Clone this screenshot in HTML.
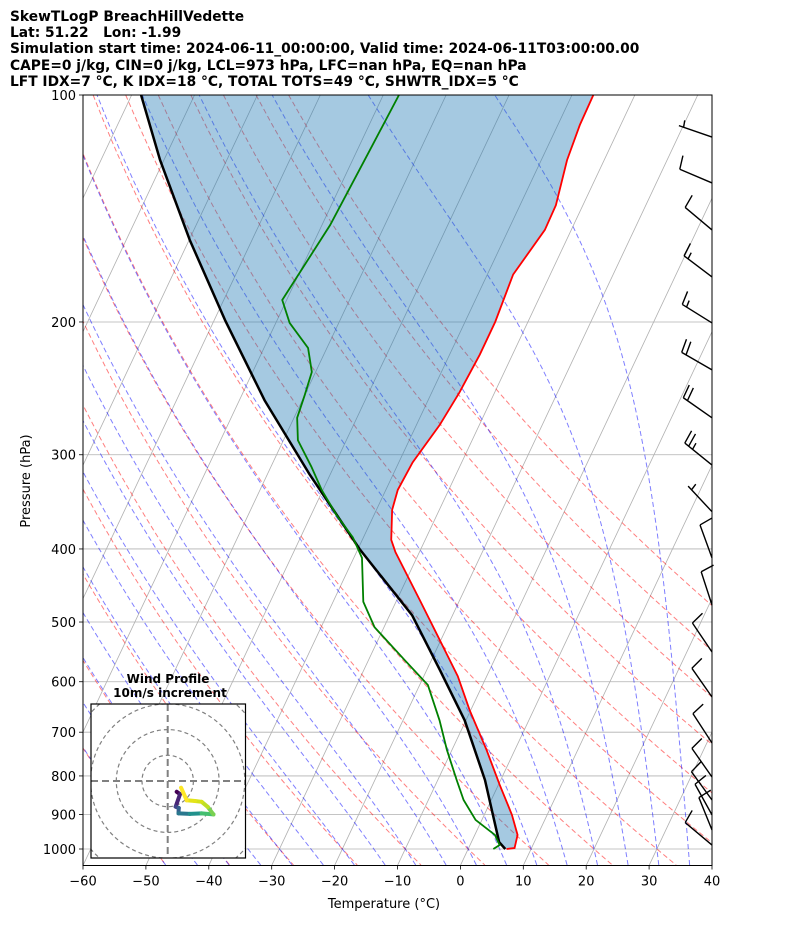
<!DOCTYPE html>
<html><head><meta charset="utf-8"><style>
html,body{margin:0;padding:0;background:#fff;}
svg{display:block;font-family:"DejaVu Sans","Liberation Sans",sans-serif;}
</style></head><body>
<svg id="chart" width="794" height="937" viewBox="0 0 794 937" xmlns="http://www.w3.org/2000/svg">
<defs><clipPath id="plotclip"><rect x="83" y="95" width="629" height="770.5"/></clipPath>
<clipPath id="hodoclip"><rect x="91" y="704" width="154.5" height="154"/></clipPath></defs>
<g font-weight="bold" font-size="13.8" fill="#000">
<text x="10" y="21">SkewTLogP BreachHillVedette</text>
<text x="10" y="37" xml:space="preserve">Lat: 51.22   Lon: -1.99</text>
<text x="10" y="53">Simulation start time: 2024-06-11_00:00:00, Valid time: 2024-06-11T03:00:00.00</text>
<text x="10" y="70">CAPE=0 j/kg, CIN=0 j/kg, LCL=973 hPa, LFC=nan hPa, EQ=nan hPa</text>
<text x="10" y="86">LFT IDX=7 °C, K IDX=18 °C, TOTAL TOTS=49 °C, SHWTR_IDX=5 °C</text>
</g>
<g id="plot" clip-path="url(#plotclip)"></g>
<g id="axes"></g>
<g id="hodo"></g>
</svg>
<script>
// ---- data ----
const tempP = [100,109.6,122,140,151,173,200,221,248,274,307,334,355,389,404,468,528,590,654,739,822,901,958,997,1000];
const tempT = [-36.6,-36.5,-35.9,-34.3,-34.2,-35.9,-35.2,-35.2,-35.6,-36.3,-37.8,-38.1,-37.5,-35.4,-33.8,-26.3,-20.2,-14.6,-10.2,-4.5,0.2,4.4,6.8,7.3,6.1];
const dewP = [100,118.3,148.8,187,200.6,216.5,233,250,268,287,311,334,361,386,411,470,508,562,606,675,739,810,861,915,958,988,1000];
const dewT = [-67.5,-68.0,-68.7,-70.7,-67.8,-63,-60.6,-60,-59.5,-57.7,-53.6,-50.2,-45.9,-41.7,-38.7,-35.2,-31.5,-24.2,-18.7,-14.2,-10.8,-7,-4.4,-1,3.2,4.7,4];
const parcelP = [100,122,155.7,198.8,254,319,401,490,579,675,810,979,1000];
const parcelT = [-108.5,-100.6,-89.9,-78.3,-66,-53.2,-39.6,-26.4,-17.9,-10.2,-2.5,4.4,5.9];
const barbP = [113.7,130.8,151,174.3,200.6,231.5,268,309.6,357,411,474.7,548,628.6,723.5,802.7,861,901,943.7,988];
const barbSpeed = [5,10,10,15,15,20,20,25,5,10,10,10,10,10,10,10,10,10,10];
const barbDir = [289,293,310,307,302,300,305,309,317,340,342,326,325,327,325,324,331,338,310];
const hodoU = [3.5,4.8,3.1,4.3,4.2,8.6,13.2,17.8,15.6,13.2,10.6,7.4,5.2];
const hodoV = [-4.2,-5.1,-10,-10.5,-12.6,-12.8,-12.6,-13,-10.1,-8.1,-7.8,-7.5,-2.6];
const xTicks = [-60,-50,-40,-30,-20,-10,0,10,20,30,40];
const yTicks = [100,200,300,400,500,600,700,800,900,1000];
const dryT0 = [-50,-40,-30,-20,-10,0,10,20,30,40,50,60,70,80,90];
const moistT0 = [-50,-45,-40,-35,-30,-25,-20,-15,-10,-5,0,5,10,15,20,25,30,35];

// ---- axes functions ----
const NS='http://www.w3.org/2000/svg';
const L=83,R=712,TOP=95,BOT=865.5;
const PX=(R-L)/100, SK=Math.tan(Math.PI/6)*(R-L)/(BOT-TOP);
const yOf=p=>TOP+Math.log10(p/100)*754;
const xOf=(t,p)=>L+(t+60)*PX+SK*(BOT-yOf(p));
const pTop=100,pBot=1050;
function el(tag,attrs,parent){const e=document.createElementNS(NS,tag);for(const k in attrs)e.setAttribute(k,attrs[k]);parent.appendChild(e);return e;}
function pathFrom(ps,ts){return ps.map((p,i)=>(i?'L':'M')+xOf(ts[i],p).toFixed(2)+' '+yOf(p).toFixed(2)).join(' ');}
const plot=document.getElementById('plot'), axes=document.getElementById('axes'), hodo=document.getElementById('hodo');
const pl=[];for(let p=pTop;p<=pBot+0.01;p+=10)pl.push(p);

for(let t=-170;t<=40;t+=10){
  const e=el('line',{x1:xOf(t,pBot),y1:yOf(pBot),x2:xOf(t,pTop),y2:yOf(pTop),stroke:'#b0b0b0','stroke-width':0.8},plot);
  
  
}
yTicks.forEach(p=>{
  const e=el('line',{x1:L,x2:R,y1:yOf(p),y2:yOf(p),stroke:'#b0b0b0','stroke-width':0.8},plot);
  
  
});
dryT0.forEach(t0=>{
  const th=t0+273.15;const ts=pl.map(p=>th*Math.pow(p/1000,0.2857)-273.15);
  const e=el('path',{d:pathFrom(pl,ts),fill:'none',stroke:'#ff0000','stroke-opacity':0.5,'stroke-width':1,'stroke-dasharray':'5,3'},plot);
  
  
});
function dTdp(T,p){const Rd=287.04,Cp=1005.7,Lv=2.501e6,eps=0.622;const tc=T-273.15;const es=6.112*Math.exp(17.67*tc/(tc+243.5));const rs=eps*es/(p-es);
  return (Rd*T+Lv*rs)/(p*(Cp+Lv*Lv*rs*eps/(Rd*T*T)));}
function integ(T,p0,p1){const n=Math.max(1,Math.ceil(Math.abs(p1-p0)/2));const h=(p1-p0)/n;let p=p0;
  for(let i=0;i<n;i++){const k1=dTdp(T,p),k2=dTdp(T+h*k1/2,p+h/2),k3=dTdp(T+h*k2/2,p+h/2),k4=dTdp(T+h*k3,p+h);T+=h*(k1+2*k2+2*k3+k4)/6;p+=h;}return T;}
moistT0.forEach(t0=>{
  let T=t0+273.15;const ps=pl.slice().reverse();
  const Tb=integ(T,1000,pBot);let Tc=Tb,pc=pBot;const out=[];
  ps.forEach(p=>{Tc=integ(Tc,pc,p);pc=p;out.push(Tc-273.15);});
  const e=el('path',{d:pathFrom(ps,out),fill:'none',stroke:'#0000ff','stroke-opacity':0.5,'stroke-width':1,'stroke-dasharray':'5,3'},plot);
  
  
});
{
  const a=tempP.map((p,i)=>xOf(tempT[i],p).toFixed(2)+','+yOf(p).toFixed(2));
  const b=parcelP.map((p,i)=>xOf(parcelT[i],p).toFixed(2)+','+yOf(p).toFixed(2)).reverse();
  const e=el('polygon',{points:a.concat(b).join(' '),fill:'#1f77b4','fill-opacity':0.4,stroke:'none'},plot);
  
  
}
{
  const e=el('path',{d:pathFrom(parcelP,parcelT),fill:'none',stroke:'#000','stroke-width':2.5,'stroke-linejoin':'round'},plot);
  
  
  const t=el('path',{d:pathFrom(tempP,tempT),fill:'none',stroke:'#ff0000','stroke-width':1.8},plot);
  
  
  const d=el('path',{d:pathFrom(dewP,dewT),fill:'none',stroke:'#008000','stroke-width':1.8},plot);
  
  
}
barbP.forEach((p,i)=>{
  const ax=R,ay=yOf(p),len=35;const th=barbDir[i]*Math.PI/180;
  const ux=Math.sin(th),uy=-Math.cos(th);
  const tx=ax+ux*len,ty=ay+uy*len;
  let d='M'+ax+' '+ay.toFixed(2)+' L'+tx.toFixed(2)+' '+ty.toFixed(2);
  const ang=Math.atan2(uy,ux)+80*Math.PI/180;const bx=Math.cos(ang),by=Math.sin(ang);
  let s=barbSpeed[i],k=0;
  const full=Math.floor(s/10),half=(s%10)>=5?1:0;
  for(let j=0;j<full;j++){const px=tx-ux*5*k,py=ty-uy*5*k;d+=' M'+px.toFixed(2)+' '+py.toFixed(2)+' l'+(bx*14).toFixed(2)+' '+(by*14).toFixed(2);k++;}
  if(half){if(k===0)k=1;const px=tx-ux*5*k,py=ty-uy*5*k;d+=' M'+px.toFixed(2)+' '+py.toFixed(2)+' l'+(bx*7).toFixed(2)+' '+(by*7).toFixed(2);}
  const e=el('path',{d:d,fill:'none',stroke:'#000','stroke-width':1.4},axes);
  
  
});
{
  const f=el('rect',{x:L,y:TOP,width:R-L,height:BOT-TOP,fill:'none',stroke:'#000','stroke-width':1},axes);
  
  
}
xTicks.forEach(t=>{
  const x=L+(t+60)*PX;
  const tk=el('line',{x1:x,x2:x,y1:BOT,y2:BOT+4,stroke:'#000','stroke-width':0.8},axes);
  
  
  const lb=el('text',{x:x,y:BOT+20,'text-anchor':'middle','font-size':13},axes);
  lb.textContent=(t<0?'\u2212':'')+Math.abs(t);
  
  
});
yTicks.forEach(p=>{
  const y=yOf(p);
  const tk=el('line',{x1:L-4,x2:L,y1:y,y2:y,stroke:'#000','stroke-width':0.8},axes);
  
  
  const lb=el('text',{x:L-7,y:y+5,'text-anchor':'end','font-size':13},axes);
  lb.textContent=p;
  
  
});
{
  const xl=el('text',{x:384,y:908,'text-anchor':'middle','font-size':13},axes);
  xl.textContent='Temperature (\u00b0C)';
  
  
  const yl=el('text',{x:0,y:0,'text-anchor':'middle','font-size':13,transform:'translate(30,481) rotate(-90)'},axes);
  yl.textContent='Pressure (hPa)';
  
  
}
{
  const bg=el('rect',{x:91,y:704,width:154.5,height:154,fill:'#fff',stroke:'none'},hodo);
  
  
  const g=el('g',{'clip-path':'url(#hodoclip)'},hodo);
  const cx=167.7,cy=781,sc=2.57;
  [10,20,30,40].forEach(r=>{
    const c=el('circle',{cx:cx,cy:cy,r:r*sc,fill:'none',stroke:'#808080','stroke-width':1.2,'stroke-dasharray':'4,3'},g);
    
    
  });
  const h1=el('line',{x1:91,x2:246,y1:cy,y2:cy,stroke:'#808080','stroke-width':2,'stroke-dasharray':'7,4'},g);
  
  
  const v1=el('line',{x1:cx,x2:cx,y1:704,y2:858,stroke:'#808080','stroke-width':2,'stroke-dasharray':'7,4'},g);
  
  
  const vir=['#440154','#482475','#414487','#355f8d','#2a788e','#21918c','#22a884','#44bf70','#7ad151','#bddf26','#d5e21a','#e4e419','#fde725'];
  for(let i=0;i<hodoU.length-1;i++){
    const s=el('line',{x1:cx+hodoU[i]*sc,y1:cy-hodoV[i]*sc,x2:cx+hodoU[i+1]*sc,y2:cy-hodoV[i+1]*sc,stroke:vir[Math.round(i*(vir.length-1)/(hodoU.length-2))],'stroke-width':4,'stroke-linecap':'round'},g);
    
    
  }
  const fr=el('rect',{x:91,y:704,width:154.5,height:154,fill:'none',stroke:'#000','stroke-width':1.2},hodo);
  
  
  const t1=el('text',{x:168,y:683,'text-anchor':'middle','font-size':12,'font-weight':'bold'},hodo);
  t1.textContent='Wind Profile';
  
  
  const t2=el('text',{x:170,y:697,'text-anchor':'middle','font-size':12,'font-weight':'bold'},hodo);
  t2.textContent='10m/s increment';
  
  
}
</script>
</body></html>
